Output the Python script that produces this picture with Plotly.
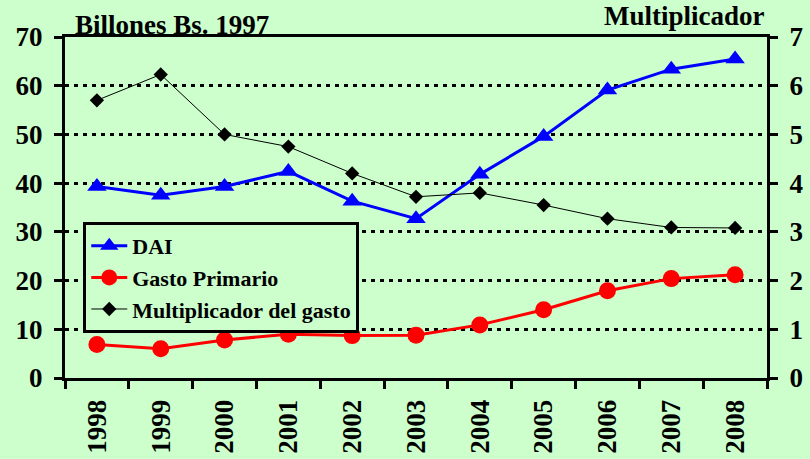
import plotly.graph_objects as go

years = ["1998", "1999", "2000", "2001", "2002", "2003", "2004", "2005", "2006", "2007", "2008"]
dai = [39.3, 37.5, 39.3, 42.4, 36.3, 32.7, 41.8, 49.6, 59.1, 63.4, 65.5]
gasto = [6.9, 6.0, 7.8, 9.0, 8.7, 8.8, 10.9, 14.0, 17.9, 20.4, 21.2]
multiplicador = [5.7, 6.23, 5.0, 4.75, 4.2, 3.72, 3.8, 3.55, 3.27, 3.09, 3.08]
series_names = ["DAI", "Gasto Primario", "Multiplicador del gasto"]

left_ticks = [0, 10, 20, 30, 40, 50, 60, 70]
right_ticks = [0, 1, 2, 3, 4, 5, 6, 7]

FONT = "Liberation Serif"
BG = "#CCFFCC"

fig = go.Figure()
fig.add_trace(go.Scatter(
    x=years, y=dai, name="<b>%s</b>" % series_names[0], mode="lines+markers",
    line=dict(color="#0000FF", width=3),
    marker=dict(symbol="triangle-up", size=17, color="#0000FF"),
))
fig.add_trace(go.Scatter(
    x=years, y=gasto, name="<b>%s</b>" % series_names[1], mode="lines+markers",
    line=dict(color="#FF0000", width=3),
    marker=dict(symbol="circle", size=17, color="#FF0000"),
))
fig.add_trace(go.Scatter(
    x=years, y=multiplicador, name="<b>%s</b>" % series_names[2], mode="lines+markers",
    yaxis="y2",
    line=dict(color="#000000", width=1),
    marker=dict(symbol="diamond", size=11, color="#000000"),
))

tickfont = dict(family=FONT, size=27, color="#000000", weight="bold")

fig.update_layout(
    width=810, height=459,
    margin=dict(l=65, r=43, t=37, b=81, pad=0),
    paper_bgcolor=BG, plot_bgcolor=BG,
    font=dict(family=FONT, color="#000000"),
    showlegend=True,
    legend=dict(
        x=0.026, y=0.4575, xanchor="left", yanchor="top",
        bgcolor=BG, bordercolor="#000000", borderwidth=3,
        font=dict(family=FONT, size=22, color="#000000", weight="bold"),
        tracegroupgap=0, itemwidth=36,
    ),
    xaxis=dict(
        type="category", tickson="boundaries",
        tickangle=-90, tickfont=tickfont, automargin=False,
        ticks="outside", ticklen=8, tickwidth=3, tickcolor="#000000",
        ticklabelstandoff=8,
        showline=True, linecolor="#000000", linewidth=3, mirror=True,
        showgrid=False, zeroline=False,
        range=[-0.5, 10.5],
    ),
    yaxis=dict(
        range=[0, 70], tickvals=left_ticks, tickfont=tickfont, automargin=False,
        ticks="outside", ticklen=8, tickwidth=3, tickcolor="#000000",
        ticklabelstandoff=6,
        showline=True, linecolor="#000000", linewidth=3,
        showgrid=True, gridcolor="#000000", gridwidth=3, griddash="4px,5px",
        zeroline=False,
    ),
    yaxis2=dict(
        overlaying="y", side="right",
        range=[0, 7], tickvals=right_ticks, tickfont=tickfont, automargin=False,
        ticks="outside", ticklen=8, tickwidth=3, tickcolor="#000000",
        ticklabelstandoff=6,
        showline=True, linecolor="#000000", linewidth=3,
        showgrid=False, zeroline=False,
    ),
    annotations=[
        dict(text="Billones Bs. 1997", xref="paper", yref="paper",
             x=0.012, y=1.0, xanchor="left", yanchor="bottom", showarrow=False,
             font=dict(family=FONT, size=27, color="#000000", weight="bold"), yshift=-5),
        dict(text="Multiplicador", xref="paper", yref="paper",
             x=1.0, y=1.0, xanchor="right", yanchor="bottom", showarrow=False,
             font=dict(family=FONT, size=27, color="#000000", weight="bold"), yshift=4),
    ],
)

fig.write_html("out.html", config={"displayModeBar": False},
               post_script="document.body.style.margin='0';document.body.style.overflow='hidden';")
